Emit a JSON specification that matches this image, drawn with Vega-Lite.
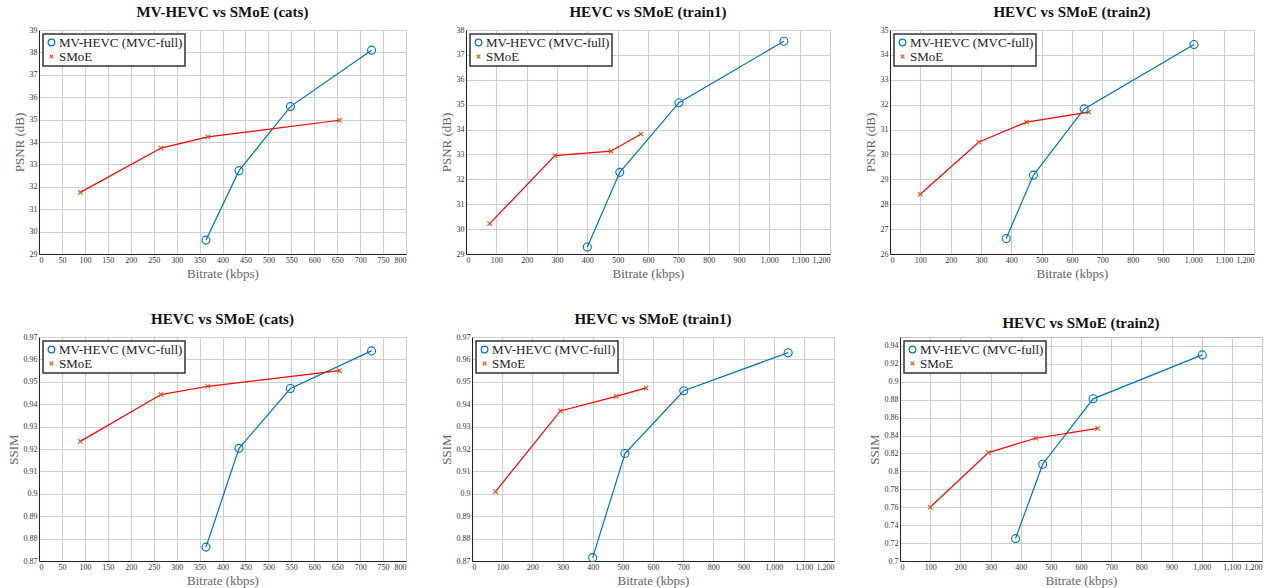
{
  "$schema": "https://vega.github.io/schema/vega-lite/v6.json",
  "background": "white",
  "padding": {"left": 6, "top": 4, "right": 2, "bottom": 2},
  "datasets": {
    "rd": [
      {"panel": "p1", "series": "MV-HEVC (MVC-full)", "bitrate": 364, "value": 29.62},
      {"panel": "p1", "series": "MV-HEVC (MVC-full)", "bitrate": 436, "value": 32.72},
      {"panel": "p1", "series": "MV-HEVC (MVC-full)", "bitrate": 548, "value": 35.58},
      {"panel": "p1", "series": "MV-HEVC (MVC-full)", "bitrate": 725, "value": 38.1},
      {"panel": "p1", "series": "SMoE", "bitrate": 90, "value": 31.75},
      {"panel": "p1", "series": "SMoE", "bitrate": 266, "value": 33.73},
      {"panel": "p1", "series": "SMoE", "bitrate": 368, "value": 34.23},
      {"panel": "p1", "series": "SMoE", "bitrate": 655, "value": 34.97},
      {"panel": "p2", "series": "MV-HEVC (MVC-full)", "bitrate": 400, "value": 29.28},
      {"panel": "p2", "series": "MV-HEVC (MVC-full)", "bitrate": 507, "value": 32.28},
      {"panel": "p2", "series": "MV-HEVC (MVC-full)", "bitrate": 702, "value": 35.08},
      {"panel": "p2", "series": "MV-HEVC (MVC-full)", "bitrate": 1048, "value": 37.55},
      {"panel": "p2", "series": "SMoE", "bitrate": 78, "value": 30.22},
      {"panel": "p2", "series": "SMoE", "bitrate": 293, "value": 32.95},
      {"panel": "p2", "series": "SMoE", "bitrate": 478, "value": 33.13},
      {"panel": "p2", "series": "SMoE", "bitrate": 577, "value": 33.82},
      {"panel": "p3", "series": "MV-HEVC (MVC-full)", "bitrate": 383, "value": 26.62},
      {"panel": "p3", "series": "MV-HEVC (MVC-full)", "bitrate": 473, "value": 29.17},
      {"panel": "p3", "series": "MV-HEVC (MVC-full)", "bitrate": 640, "value": 31.83},
      {"panel": "p3", "series": "MV-HEVC (MVC-full)", "bitrate": 1002, "value": 34.42},
      {"panel": "p3", "series": "SMoE", "bitrate": 100, "value": 28.4},
      {"panel": "p3", "series": "SMoE", "bitrate": 293, "value": 30.5},
      {"panel": "p3", "series": "SMoE", "bitrate": 450, "value": 31.3},
      {"panel": "p3", "series": "SMoE", "bitrate": 655, "value": 31.7},
      {"panel": "p4", "series": "MV-HEVC (MVC-full)", "bitrate": 364, "value": 0.8762},
      {"panel": "p4", "series": "MV-HEVC (MVC-full)", "bitrate": 436, "value": 0.9203},
      {"panel": "p4", "series": "MV-HEVC (MVC-full)", "bitrate": 548, "value": 0.947},
      {"panel": "p4", "series": "MV-HEVC (MVC-full)", "bitrate": 725, "value": 0.9638},
      {"panel": "p4", "series": "SMoE", "bitrate": 90, "value": 0.9234},
      {"panel": "p4", "series": "SMoE", "bitrate": 266, "value": 0.9443},
      {"panel": "p4", "series": "SMoE", "bitrate": 368, "value": 0.948},
      {"panel": "p4", "series": "SMoE", "bitrate": 655, "value": 0.955},
      {"panel": "p5", "series": "MV-HEVC (MVC-full)", "bitrate": 400, "value": 0.8715},
      {"panel": "p5", "series": "MV-HEVC (MVC-full)", "bitrate": 507, "value": 0.918},
      {"panel": "p5", "series": "MV-HEVC (MVC-full)", "bitrate": 702, "value": 0.946},
      {"panel": "p5", "series": "MV-HEVC (MVC-full)", "bitrate": 1048, "value": 0.963},
      {"panel": "p5", "series": "SMoE", "bitrate": 78, "value": 0.901},
      {"panel": "p5", "series": "SMoE", "bitrate": 293, "value": 0.937},
      {"panel": "p5", "series": "SMoE", "bitrate": 478, "value": 0.9435},
      {"panel": "p5", "series": "SMoE", "bitrate": 577, "value": 0.9473},
      {"panel": "p6", "series": "MV-HEVC (MVC-full)", "bitrate": 383, "value": 0.725},
      {"panel": "p6", "series": "MV-HEVC (MVC-full)", "bitrate": 473, "value": 0.808},
      {"panel": "p6", "series": "MV-HEVC (MVC-full)", "bitrate": 640, "value": 0.881},
      {"panel": "p6", "series": "MV-HEVC (MVC-full)", "bitrate": 1002, "value": 0.93},
      {"panel": "p6", "series": "SMoE", "bitrate": 100, "value": 0.76},
      {"panel": "p6", "series": "SMoE", "bitrate": 293, "value": 0.821},
      {"panel": "p6", "series": "SMoE", "bitrate": 450, "value": 0.837},
      {"panel": "p6", "series": "SMoE", "bitrate": 655, "value": 0.848}
    ]
  },
  "spacing": 30,
  "resolve": {"scale": {"color": "independent", "shape": "independent"}, "legend": {"color": "independent", "shape": "independent"}},
  "vconcat": [
    {
      "spacing": 32,
      "resolve": {"scale": {"color": "independent", "shape": "independent"}, "legend": {"color": "independent", "shape": "independent"}},
      "hconcat": [
        {
          "width": 367, "height": 224,
          "data": {"name": "rd"},
          "title": "MV-HEVC vs SMoE (cats)",
          "transform": [{"filter": "datum.panel === 'p1'"}],
          "encoding": {
            "x": {"field": "bitrate", "type": "quantitative", "scale": {"domain": [0, 800], "nice": false}, "axis": {"title": "Bitrate (kbps)", "values": [0,50,100,150,200,250,300,350,400,450,500,550,600,650,700,750,800]}},
            "y": {"field": "value", "type": "quantitative", "scale": {"domain": [29, 39], "nice": false, "zero": false}, "axis": {"title": "PSNR (dB)", "values": [29,30,31,32,33,34,35,36,37,38,39]}}
          },
          "layer": [
            {"transform": [{"filter": "datum.series === 'MV-HEVC (MVC-full)'"}], "mark": {"type": "line", "strokeWidth": 1.2, "color": "#0072BD"}, "encoding": {}},
            {"transform": [{"filter": "datum.series === 'SMoE'"}], "mark": {"type": "line", "strokeWidth": 1.2, "color": "#FF0000"}, "encoding": {}},
            {"mark": {"type": "point", "filled": false, "strokeWidth": 1.1, "opacity": 1, "size": 64}, "encoding": {
              "color": {"field": "series", "type": "nominal", "scale": {"domain": ["MV-HEVC (MVC-full)", "SMoE"], "range": ["#0072BD", "#D95319"]}, "legend": {"title": null}},
              "shape": {"field": "series", "type": "nominal", "scale": {"domain": ["MV-HEVC (MVC-full)", "SMoE"], "range": ["circle", "M-0.55,-0.55L0.55,0.55M-0.55,0.55L0.55,-0.55"]}, "legend": {"title": null}}}}
          ]
        },
        {
          "width": 364, "height": 224,
          "data": {"name": "rd"},
          "title": "HEVC vs SMoE (train1)",
          "transform": [{"filter": "datum.panel === 'p2'"}],
          "encoding": {
            "x": {"field": "bitrate", "type": "quantitative", "scale": {"domain": [0, 1200], "nice": false}, "axis": {"title": "Bitrate (kbps)", "format": ",d", "values": [0,100,200,300,400,500,600,700,800,900,1000,1100,1200]}},
            "y": {"field": "value", "type": "quantitative", "scale": {"domain": [29, 38], "nice": false, "zero": false}, "axis": {"title": "PSNR (dB)", "values": [29,30,31,32,33,34,35,36,37,38]}}
          },
          "layer": [
            {"transform": [{"filter": "datum.series === 'MV-HEVC (MVC-full)'"}], "mark": {"type": "line", "strokeWidth": 1.2, "color": "#0072BD"}, "encoding": {}},
            {"transform": [{"filter": "datum.series === 'SMoE'"}], "mark": {"type": "line", "strokeWidth": 1.2, "color": "#FF0000"}, "encoding": {}},
            {"mark": {"type": "point", "filled": false, "strokeWidth": 1.1, "opacity": 1, "size": 64}, "encoding": {
              "color": {"field": "series", "type": "nominal", "scale": {"domain": ["MV-HEVC (MVC-full)", "SMoE"], "range": ["#0072BD", "#D95319"]}, "legend": {"title": null}},
              "shape": {"field": "series", "type": "nominal", "scale": {"domain": ["MV-HEVC (MVC-full)", "SMoE"], "range": ["circle", "M-0.55,-0.55L0.55,0.55M-0.55,0.55L0.55,-0.55"]}, "legend": {"title": null}}}}
          ]
        },
        {
          "width": 364, "height": 224,
          "data": {"name": "rd"},
          "title": "HEVC vs SMoE (train2)",
          "transform": [{"filter": "datum.panel === 'p3'"}],
          "encoding": {
            "x": {"field": "bitrate", "type": "quantitative", "scale": {"domain": [0, 1200], "nice": false}, "axis": {"title": "Bitrate (kbps)", "format": ",d", "values": [0,100,200,300,400,500,600,700,800,900,1000,1100,1200]}},
            "y": {"field": "value", "type": "quantitative", "scale": {"domain": [26, 35], "nice": false, "zero": false}, "axis": {"title": "PSNR (dB)", "values": [26,27,28,29,30,31,32,33,34,35]}}
          },
          "layer": [
            {"transform": [{"filter": "datum.series === 'MV-HEVC (MVC-full)'"}], "mark": {"type": "line", "strokeWidth": 1.2, "color": "#0072BD"}, "encoding": {}},
            {"transform": [{"filter": "datum.series === 'SMoE'"}], "mark": {"type": "line", "strokeWidth": 1.2, "color": "#FF0000"}, "encoding": {}},
            {"mark": {"type": "point", "filled": false, "strokeWidth": 1.1, "opacity": 1, "size": 64}, "encoding": {
              "color": {"field": "series", "type": "nominal", "scale": {"domain": ["MV-HEVC (MVC-full)", "SMoE"], "range": ["#0072BD", "#D95319"]}, "legend": {"title": null}},
              "shape": {"field": "series", "type": "nominal", "scale": {"domain": ["MV-HEVC (MVC-full)", "SMoE"], "range": ["circle", "M-0.55,-0.55L0.55,0.55M-0.55,0.55L0.55,-0.55"]}, "legend": {"title": null}}}}
          ]
        }
      ]
    },
    {
      "spacing": 32,
      "resolve": {"scale": {"color": "independent", "shape": "independent"}, "legend": {"color": "independent", "shape": "independent"}},
      "hconcat": [
        {
          "width": 367, "height": 224,
          "data": {"name": "rd"},
          "title": "HEVC vs SMoE (cats)",
          "transform": [{"filter": "datum.panel === 'p4'"}],
          "encoding": {
            "x": {"field": "bitrate", "type": "quantitative", "scale": {"domain": [0, 800], "nice": false}, "axis": {"title": "Bitrate (kbps)", "values": [0,50,100,150,200,250,300,350,400,450,500,550,600,650,700,750,800]}},
            "y": {"field": "value", "type": "quantitative", "scale": {"domain": [0.87, 0.97], "nice": false, "zero": false}, "axis": {"title": "SSIM", "format": "~g", "values": [0.87,0.88,0.89,0.9,0.91,0.92,0.93,0.94,0.95,0.96,0.97]}}
          },
          "layer": [
            {"transform": [{"filter": "datum.series === 'MV-HEVC (MVC-full)'"}], "mark": {"type": "line", "strokeWidth": 1.2, "color": "#0072BD"}, "encoding": {}},
            {"transform": [{"filter": "datum.series === 'SMoE'"}], "mark": {"type": "line", "strokeWidth": 1.2, "color": "#FF0000"}, "encoding": {}},
            {"mark": {"type": "point", "filled": false, "strokeWidth": 1.1, "opacity": 1, "size": 64}, "encoding": {
              "color": {"field": "series", "type": "nominal", "scale": {"domain": ["MV-HEVC (MVC-full)", "SMoE"], "range": ["#0072BD", "#D95319"]}, "legend": {"title": null}},
              "shape": {"field": "series", "type": "nominal", "scale": {"domain": ["MV-HEVC (MVC-full)", "SMoE"], "range": ["circle", "M-0.55,-0.55L0.55,0.55M-0.55,0.55L0.55,-0.55"]}, "legend": {"title": null}}}}
          ]
        },
        {
          "width": 362, "height": 224,
          "data": {"name": "rd"},
          "title": "HEVC vs SMoE (train1)",
          "transform": [{"filter": "datum.panel === 'p5'"}],
          "encoding": {
            "x": {"field": "bitrate", "type": "quantitative", "scale": {"domain": [0, 1200], "nice": false}, "axis": {"title": "Bitrate (kbps)", "format": ",d", "values": [0,100,200,300,400,500,600,700,800,900,1000,1100,1200]}},
            "y": {"field": "value", "type": "quantitative", "scale": {"domain": [0.87, 0.97], "nice": false, "zero": false}, "axis": {"title": "SSIM", "format": "~g", "values": [0.87,0.88,0.89,0.9,0.91,0.92,0.93,0.94,0.95,0.96,0.97]}}
          },
          "layer": [
            {"transform": [{"filter": "datum.series === 'MV-HEVC (MVC-full)'"}], "mark": {"type": "line", "strokeWidth": 1.2, "color": "#0072BD"}, "encoding": {}},
            {"transform": [{"filter": "datum.series === 'SMoE'"}], "mark": {"type": "line", "strokeWidth": 1.2, "color": "#FF0000"}, "encoding": {}},
            {"mark": {"type": "point", "filled": false, "strokeWidth": 1.1, "opacity": 1, "size": 64}, "encoding": {
              "color": {"field": "series", "type": "nominal", "scale": {"domain": ["MV-HEVC (MVC-full)", "SMoE"], "range": ["#0072BD", "#D95319"]}, "legend": {"title": null}},
              "shape": {"field": "series", "type": "nominal", "scale": {"domain": ["MV-HEVC (MVC-full)", "SMoE"], "range": ["circle", "M-0.55,-0.55L0.55,0.55M-0.55,0.55L0.55,-0.55"]}, "legend": {"title": null}}}}
          ]
        },
        {
          "width": 362, "height": 224,
          "data": {"name": "rd"},
          "title": "HEVC vs SMoE (train2)",
          "transform": [{"filter": "datum.panel === 'p6'"}],
          "encoding": {
            "x": {"field": "bitrate", "type": "quantitative", "scale": {"domain": [0, 1200], "nice": false}, "axis": {"title": "Bitrate (kbps)", "format": ",d", "values": [0,100,200,300,400,500,600,700,800,900,1000,1100,1200]}},
            "y": {"field": "value", "type": "quantitative", "scale": {"domain": [0.7, 0.95], "nice": false, "zero": false}, "axis": {"title": "SSIM", "format": "~g", "values": [0.7,0.72,0.74,0.76,0.78,0.8,0.82,0.84,0.86,0.88,0.9,0.92,0.94]}}
          },
          "layer": [
            {"transform": [{"filter": "datum.series === 'MV-HEVC (MVC-full)'"}], "mark": {"type": "line", "strokeWidth": 1.2, "color": "#0072BD"}, "encoding": {}},
            {"transform": [{"filter": "datum.series === 'SMoE'"}], "mark": {"type": "line", "strokeWidth": 1.2, "color": "#FF0000"}, "encoding": {}},
            {"mark": {"type": "point", "filled": false, "strokeWidth": 1.1, "opacity": 1, "size": 64}, "encoding": {
              "color": {"field": "series", "type": "nominal", "scale": {"domain": ["MV-HEVC (MVC-full)", "SMoE"], "range": ["#0072BD", "#D95319"]}, "legend": {"title": null}},
              "shape": {"field": "series", "type": "nominal", "scale": {"domain": ["MV-HEVC (MVC-full)", "SMoE"], "range": ["circle", "M-0.55,-0.55L0.55,0.55M-0.55,0.55L0.55,-0.55"]}, "legend": {"title": null}}}}
          ]
        }
      ]
    }
  ],
  "config": {
    "font": "Liberation Serif",
    "view": {"stroke": "#bdbdbd", "strokeWidth": 1},
    "title": {"font": "Liberation Serif", "fontSize": 15, "fontWeight": "bold", "color": "#111", "offset": 6, "anchor": "middle"},
    "axis": {
      "labelFont": "Liberation Serif", "labelFontSize": 8, "labelColor": "#333", "labelPadding": 2,
      "titleFont": "Liberation Serif", "titleFontSize": 13, "titleFontWeight": "normal", "titleColor": "#666", "titlePadding": 3,
      "gridColor": "#cfcfcf", "gridWidth": 1.2, "domainColor": "#222", "domainWidth": 1, "ticks": false
    },
    "legend": {
      "orient": "top-left", "offset": 4, "padding": 2, "strokeColor": "#333", "strokeWidth": 1.5, "fillColor": "white",
      "labelFont": "Liberation Serif", "labelFontSize": 13, "labelColor": "#222", "labelOffset": 1,
      "symbolSize": 45, "symbolStrokeWidth": 1.2, "rowPadding": 0
    }
  }
}
